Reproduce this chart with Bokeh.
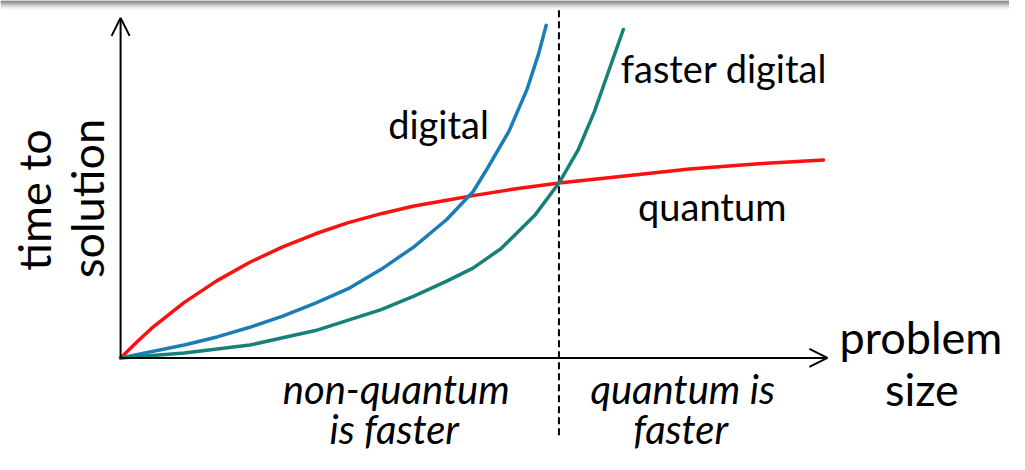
import numpy as np
from bokeh.plotting import figure
from bokeh.models import Arrow, OpenHead
from bokeh.core.properties import value
from bokeh.embed import file_html
from bokeh.resources import INLINE

# conceptual curves: problem size (x) vs time to solution (y), arbitrary units
quantum_x = [0.0, 1.6, 3.13, 6.47, 9.8, 13.13, 16.47, 19.8, 23.13, 26.47, 29.8, 33.13,
             35.8, 39.8, 44.53, 49.8, 57.8, 64.8, 71.4]
quantum_y = [0.0, 1.6, 3.05, 5.75, 8.0, 9.9, 11.5, 12.85, 14.0, 14.93, 15.73, 16.33,
             16.8, 17.45, 18.1, 18.67, 19.55, 20.1, 20.5]

digital_x = [0.0, 6.47, 9.8, 13.13, 16.47, 19.8, 23.13, 26.47, 29.8, 33.13,
             35.8, 37.13, 39.47, 41.3, 42.47, 43.23]
digital_y = [0.0, 1.33, 2.17, 3.17, 4.33, 5.67, 7.17, 9.17, 11.5, 14.33,
             17.2, 19.4, 23.5, 27.83, 31.5, 34.43]

faster_x = [0.0, 6.47, 13.13, 19.8, 26.47, 29.8, 33.13, 35.8, 38.63, 42.13,
            44.53, 46.47, 48.13, 49.63, 51.07]
faster_y = [0.0, 0.5, 1.33, 2.83, 5.0, 6.4, 7.95, 9.3, 11.3, 14.83,
            18.1, 21.5, 25.5, 29.83, 34.0]

crossover_x = 44.53

FONT = "Lato"

X0, X1 = -12.2, 90.3
Y0, Y1 = -10.0, 37.0

p = figure(width=1009, height=454, x_range=(X0, X1), y_range=(Y0, Y1),
           output_backend="svg", toolbar_location=None, min_border=0)
p.axis.visible = False
p.grid.visible = False
p.outline_line_color = None
p.background_fill_color = "white"
p.border_fill_color = "white"

# slide shadow band at top
greys = ["#5c5c5c", "#6e6e6e", "#838383", "#999999", "#afafaf", "#c4c4c4",
         "#d7d7d7", "#e6e6e6", "#f1f1f1", "#f9f9f9"]
n = len(greys)
tops = [Y1 - i * 0.1 for i in range(n)]
bots = [Y1 - (i + 1) * 0.1 for i in range(n)]
p.quad(left=[X0] * n, right=[X1] * n, top=tops, bottom=bots,
       fill_color=greys, line_color=None)

# axes with arrows
p.add_layout(Arrow(end=OpenHead(size=18, line_width=2, line_color="black"),
                   x_start=0, y_start=0, x_end=0, y_end=35.2,
                   line_width=2, line_color="black"))
p.add_layout(Arrow(end=OpenHead(size=18, line_width=2, line_color="black"),
                   x_start=0, y_start=0, x_end=71.8, y_end=0,
                   line_width=2, line_color="black"))

# dashed crossover line
p.segment(x0=[crossover_x], y0=[36.0], x1=[crossover_x], y1=[-8.2],
          line_color="black", line_width=2, line_dash="7 4")

p.line(quantum_x, quantum_y, line_color="#ff1010", line_width=3.5,
       line_join="round", line_cap="round")
p.line(digital_x, digital_y, line_color="#1a7db5", line_width=3.5,
       line_join="round", line_cap="round")
p.line(faster_x, faster_y, line_color="#17807b", line_width=3.5,
       line_join="round", line_cap="round")

def label(x, y, t, size=38, style="normal", angle=0):
    p.text(x=[x], y=[y], text=[t], text_font=value(FONT), text_font_size=f"{size}px",
           text_font_style=style, text_align="center", text_baseline="middle",
           text_color="black", angle=angle)

label(32.3, 24.25, "digital")
label(61.3, 30.05, "faster digital")
label(60.1, 15.75, "quantum")
label(81.3, 2.2, "problem", size=45)
label(81.4, -3.2, "size", size=45)
label(28.0, -3.2, "non-quantum", size=40, style="italic")
label(27.8, -7.4, "is faster", size=40, style="italic")
label(57.1, -3.2, "quantum is", size=40, style="italic")
label(56.9, -7.4, "faster", size=40, style="italic")
label(-8.75, 16.35, "time to", size=45, angle=np.pi / 2)
label(-3.45, 16.5, "solution", size=45, angle=np.pi / 2)

open("out.html", "w").write(file_html(p, INLINE))
